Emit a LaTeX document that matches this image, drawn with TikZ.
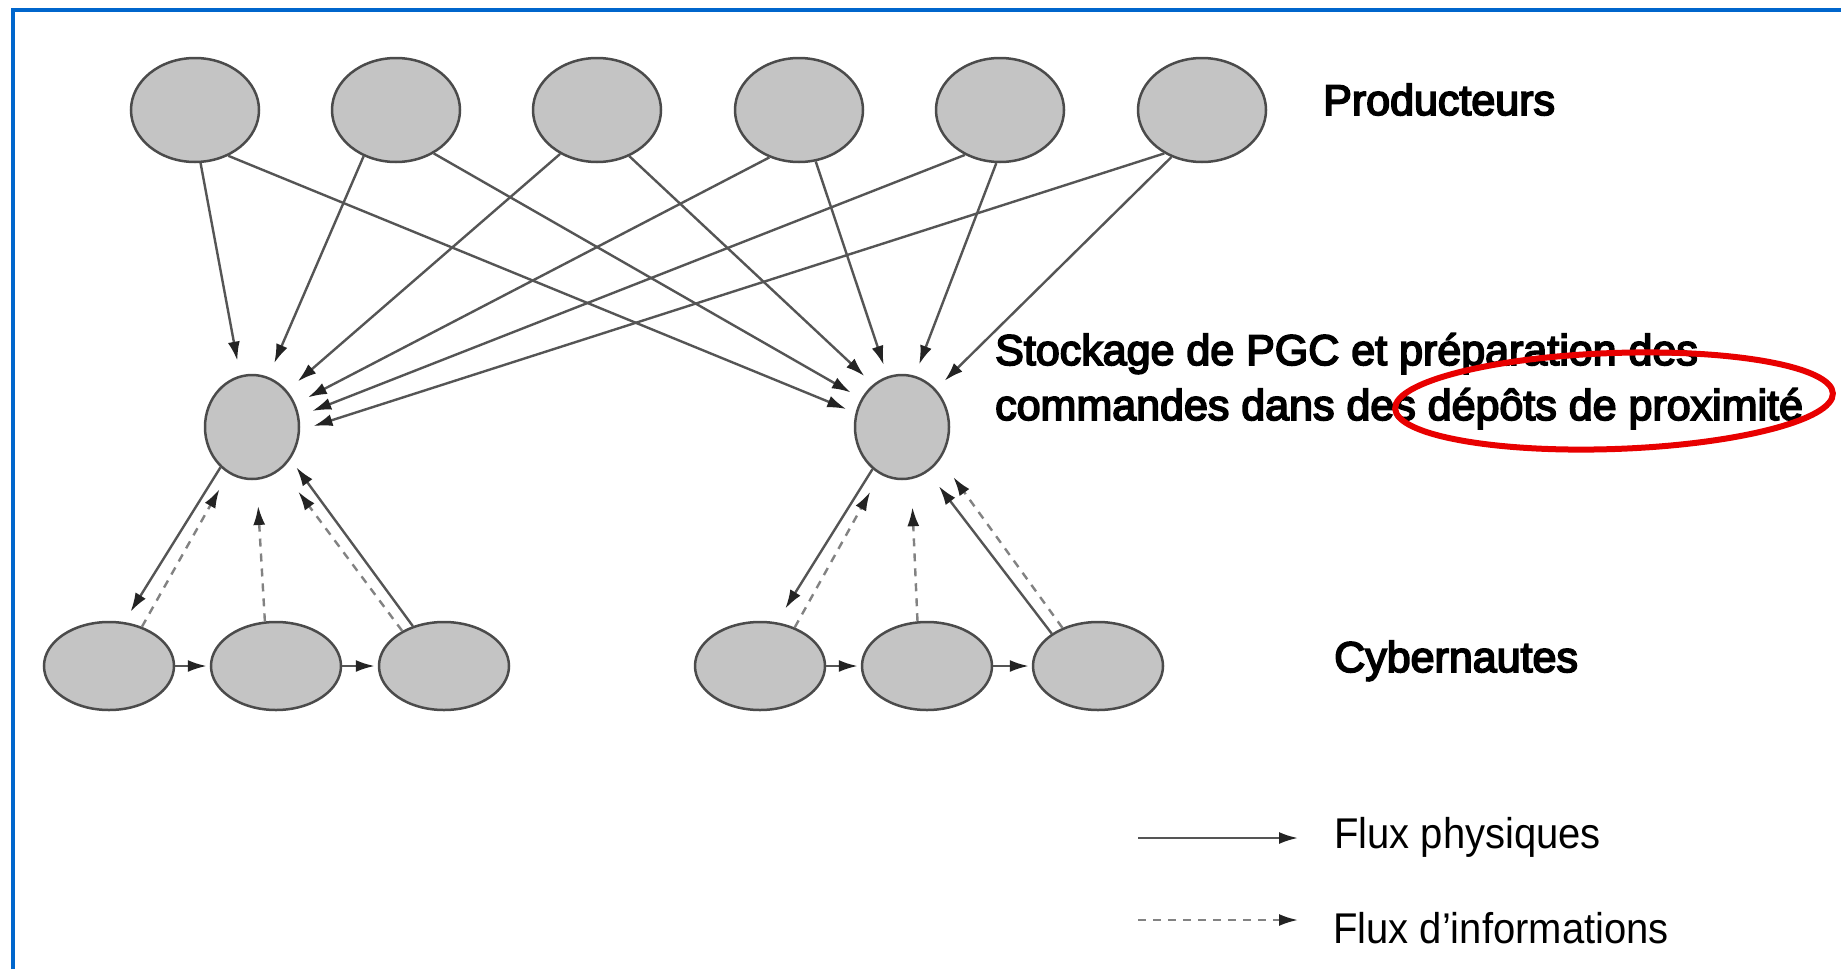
\documentclass[tikz,border=0pt]{standalone}
\usepackage{fontspec}
\setmainfont{Liberation Sans}
\newfontfamily\lblfont{Liberation Sans}[FakeBold=4]
\newfontfamily\legfont{Liberation Sans}[FakeStretch=0.93]
\usetikzlibrary{arrows.meta,shapes.geometric}
\definecolor{frameblue}{RGB}{0,102,204}
\definecolor{nodefill}{RGB}{196,196,196}
\definecolor{nodeline}{RGB}{75,75,75}
\definecolor{flowline}{RGB}{85,85,85}
\definecolor{infoline}{RGB}{130,130,130}
\definecolor{tipcol}{RGB}{35,35,35}
\definecolor{markred}{RGB}{232,0,0}
\begin{document}
\begin{tikzpicture}[x=1pt,y=-1pt,
  actor/.style={ellipse, draw=nodeline, line width=2.5pt, fill=nodefill, inner sep=0pt},
  prod/.style={actor, minimum width=128pt, minimum height=104pt},
  depot/.style={actor, minimum width=94pt, minimum height=104pt},
  cyber/.style={actor, minimum width=130pt, minimum height=88pt},
  tipstyle/.style={-{Latex[length=19pt,width=12pt,color=tipcol]}},
  phys/.style={draw=flowline, line width=2.4pt, tipstyle, shorten >=#1},
  phys/.default=12pt,
  info/.style={draw=infoline, line width=2.4pt, dash pattern=on 8pt off 7pt, tipstyle, shorten >=#1},
  info/.default=12pt,
  lbl/.style={anchor=base west, inner sep=0pt, font={\lblfont\fontsize{43}{55}\selectfont}},
  leg/.style={anchor=base west, inner sep=0pt, font={\legfont\fontsize{43}{52}\selectfont}}
]
\useasboundingbox (0,0) rectangle (1841,969);
\fill[white] (0,0) rectangle (1841,969);
\draw[frameblue, line width=4pt] (13,969) -- (13,10) -- (1841,10);

% producers
\node[prod] (P1) at (195,110) {};
\node[prod] (P2) at (396,110) {};
\node[prod] (P3) at (597,110) {};
\node[prod] (P4) at (799,110) {};
\node[prod] (P5) at (1000,110) {};
\node[prod] (P6) at (1202,110) {};
% depots
\node[depot] (DL) at (252,427) {};
\node[depot] (DR) at (902,427) {};
% cybernautes
\node[cyber] (C1) at (109,666) {};
\node[cyber] (C2) at (276,666) {};
\node[cyber] (C3) at (444,666) {};
\node[cyber] (C4) at (760,666) {};
\node[cyber] (C5) at (927,666) {};
\node[cyber] (C6) at (1098,666) {};

% producers -> left depot
\draw[phys=15pt] (P1.-84) -- (DL.103);
\draw[phys=15pt] (P2.-125) -- (DL.72);
\draw[phys=14pt] (P3.-130) -- (DL.46);
\draw[phys=14pt] (P4.-122) -- (DL.28);
\draw[phys=14pt] (P5.-128) -- (DL.13);
\draw[phys=14pt] (P6.-131) -- (DL.-4);
% producers -> right depot
\draw[phys=10pt] (P1.-54) -- (DR.163);
\draw[phys=12pt] (P2.-49) -- (DR.145);
\draw[phys=12pt] (P3.-55) -- (DR.124);
\draw[phys=12pt] (P4.-72) -- (DR.106);
\draw[phys=12pt] (P5.-94) -- (DR.76);
\draw[phys=12pt] (P6.-123) -- (DR.48);

% left group
\draw[phys=12pt] (DL.232) -- (C1.71);
\draw[info=18pt] (C1.50) -- (DL.243);
\draw[info=26pt] (C2.104) -- (DL.-85);
\draw[info=28pt] (C3.140) -- (DL.-55);
\draw[phys=10pt] (C3.128) -- (DL.-40);
\draw[phys=3pt] (C1) -- (C2);
\draw[phys=3pt] (C2) -- (C3);

% right group
\draw[phys=16pt] (DR.235) -- (C4.69);
\draw[info=20pt] (C4.48) -- (DR.245);
\draw[info=28pt] (C5.102) -- (DR.-80);
\draw[phys=18pt] (C6.145) -- (DR.-60);
\draw[info=22pt] (C6.133) -- (DR.-40);
\draw[phys=3pt] (C4) -- (C5);
\draw[phys=3pt] (C5) -- (C6);

% labels
\node[lbl] (lprod) at (1323,115) {Producteurs};
\node[lbl] (lstock1) at (995,365) {Stockage de PGC et préparation des};
\node[lbl] (lstock2) at (995,420) {commandes dans des dépôts de proximité};
\node[lbl] (lcyber) at (1334,672) {Cybernautes};

% legend
\coordinate (la) at (1138,838);
\coordinate (lb) at (1298,838);
\coordinate (lc) at (1138,920);
\coordinate (ld) at (1298,920);
\draw[phys=0pt] (la) -- (lb);
\draw[info=0pt] (lc) -- (ld);
\node[leg] (lphys) at (1334,848) {Flux physiques};
\node[leg] (linfo) at (1333,943) {Flux d’informations};

% red highlight
\node[ellipse, draw=markred, line width=6pt, minimum width=438pt, minimum height=96pt, inner sep=0pt, rotate=2] (hl) at (1614,401) {};
\end{tikzpicture}
\end{document}
